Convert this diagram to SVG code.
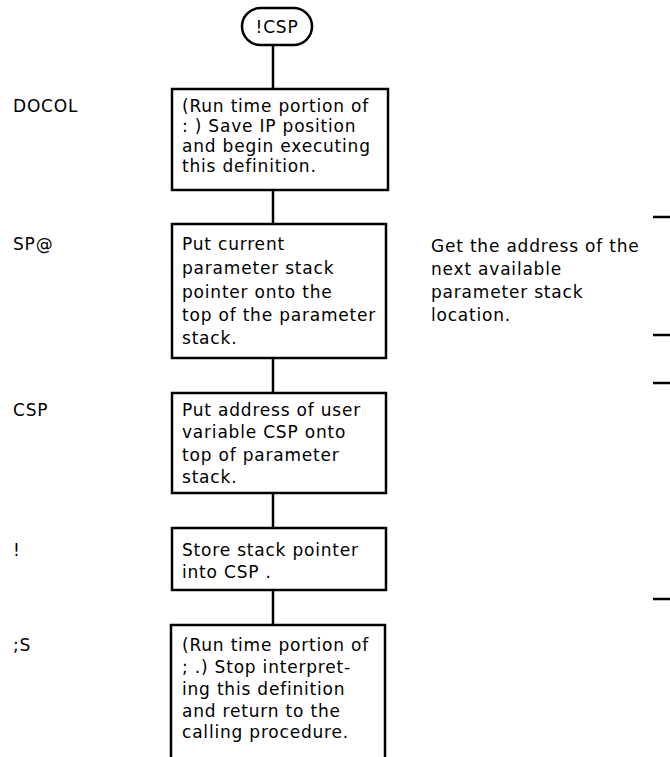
<svg xmlns="http://www.w3.org/2000/svg" width="670" height="757" viewBox="0 0 670 757">
<style>
  text { font-family: "DejaVu Sans", "Liberation Sans", sans-serif; font-size: 17px; letter-spacing: 0.8px; fill: #000; }
  .box { fill: #fff; stroke: #000; stroke-width: 2.5; }
  .con { stroke: #000; stroke-width: 2.5; fill: none; }
  .tick { stroke: #000; stroke-width: 2.5; }
</style>
<rect width="670" height="757" fill="#fff"/>
<g id="connectors">
  <line class="con" x1="273" y1="45" x2="273" y2="89"/>
  <line class="con" x1="273" y1="190" x2="273" y2="224"/>
  <line class="con" x1="273" y1="358" x2="273" y2="393"/>
  <line class="con" x1="273" y1="493" x2="273" y2="528"/>
  <line class="con" x1="273" y1="590" x2="273" y2="625"/>
</g>
<g id="start">
  <rect class="box" x="242" y="8" width="70" height="37" rx="18.5"/>
  <text x="277" y="33" text-anchor="middle">!CSP</text>
</g>
<g id="docol">
  <text x="13" y="112">DOCOL</text>
  <rect class="box" x="172" y="89" width="216" height="101"/>
  <text x="182" y="112">(Run time portion of</text>
  <text x="182" y="132">: ) Save IP position</text>
  <text x="182" y="152">and begin executing</text>
  <text x="182" y="172">this definition.</text>
</g>
<g id="spat">
  <text x="13" y="250">SP@</text>
  <rect class="box" x="172" y="224" width="214" height="134"/>
  <text x="182" y="250">Put current</text>
  <text x="182" y="274">parameter stack</text>
  <text x="182" y="298">pointer onto the</text>
  <text x="182" y="321">top of the parameter</text>
  <text x="182" y="344">stack.</text>
</g>
<g id="spat-note">
  <text x="431" y="252">Get the address of the</text>
  <text x="431" y="275">next available</text>
  <text x="431" y="298">parameter stack</text>
  <text x="431" y="321">location.</text>
</g>
<g id="csp">
  <text x="13" y="416">CSP</text>
  <rect class="box" x="172" y="393" width="214" height="100"/>
  <text x="182" y="416">Put address of user</text>
  <text x="182" y="438">variable CSP onto</text>
  <text x="182" y="461">top of parameter</text>
  <text x="182" y="483">stack.</text>
</g>
<g id="store">
  <text x="13" y="556">!</text>
  <rect class="box" x="172" y="528" width="214" height="62"/>
  <text x="182" y="556">Store stack pointer</text>
  <text x="182" y="578">into CSP .</text>
</g>
<g id="semis">
  <text x="13" y="651">;S</text>
  <path class="con" d="M171 760 V625 H385 V760"/>
  <text x="182" y="651">(Run time portion of</text>
  <text x="182" y="673">; .) Stop interpret-</text>
  <text x="182" y="695">ing this definition</text>
  <text x="182" y="717">and return to the</text>
  <text x="182" y="738">calling procedure.</text>
</g>
<g id="ticks">
  <line class="tick" x1="653" y1="217" x2="670" y2="217"/>
  <line class="tick" x1="653" y1="335" x2="670" y2="335"/>
  <line class="tick" x1="653" y1="383" x2="670" y2="383"/>
  <line class="tick" x1="653" y1="599" x2="670" y2="599"/>
</g>
</svg>
